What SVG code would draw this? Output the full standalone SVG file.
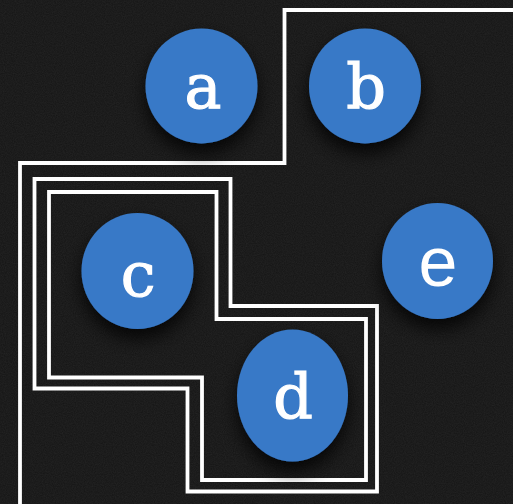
<svg xmlns="http://www.w3.org/2000/svg" width="513" height="504" viewBox="0 0 513 504">
  <defs>
    <filter id="noise" x="0" y="0" width="100%" height="100%">
      <feTurbulence type="fractalNoise" baseFrequency="0.9" numOctaves="2" seed="3" result="t"/>
      <feColorMatrix type="matrix" values="0 0 0 0 1  0 0 0 0 1  0 0 0 0 1  0 0 0 0.07 0"/>
    </filter>
    <filter id="shadow" x="-50%" y="-50%" width="200%" height="200%">
      <feDropShadow dx="0" dy="10" stdDeviation="9" flood-color="#000" flood-opacity="0.8"/>
    </filter>
    <style>
      .wall { fill: none; stroke: #ffffff; stroke-width: 3.8; stroke-linejoin: miter; }
      .node { fill: #3879c7; filter: url(#shadow); }
      .lbl { fill: #ffffff; font-family: "DejaVu Serif", "Liberation Serif", serif; font-size: 62px; text-anchor: middle; stroke: #ffffff; stroke-width: 1.2; }
      .lbl2 { fill: #ffffff; font-family: "Liberation Sans", "DejaVu Sans", sans-serif; font-size: 70px; text-anchor: middle; }
    </style>
  </defs>
  <rect width="513" height="504" fill="#141414"/>
  <rect width="513" height="504" filter="url(#noise)"/>

  <g id="connectors">
    <path class="wall" d="M 515 10 H 284.5 V 163 H 20 V 506"/>
    <path class="wall" d="M 34.5 179 H 230.5 V 306 H 377 V 491.5 H 187.5 V 388.5 H 34.5 Z"/>
    <path class="wall" d="M 49 192 H 216.5 V 319 H 366 V 480 H 202 V 377.5 H 49 Z"/>
  </g>

  <g id="node-a">
    <ellipse class="node" cx="201.5" cy="86" rx="56" ry="57.5"/>
    <text class="lbl" x="203" y="108">a</text>
  </g>
  <g id="node-b">
    <ellipse class="node" cx="365" cy="86" rx="56" ry="57.5"/>
    <text class="lbl" x="366" y="108">b</text>
  </g>
  <g id="node-c">
    <ellipse class="node" cx="137.5" cy="271" rx="56" ry="58"/>
    <text class="lbl" x="138" y="296">c</text>
  </g>
  <g id="node-d">
    <ellipse class="node" cx="292.5" cy="395.5" rx="55.5" ry="66"/>
    <text class="lbl" x="293" y="418">d</text>
  </g>
  <g id="node-e">
    <ellipse class="node" cx="437.5" cy="261" rx="55.5" ry="58"/>
    <text class="lbl2" x="438" y="286">e</text>
  </g>
</svg>
